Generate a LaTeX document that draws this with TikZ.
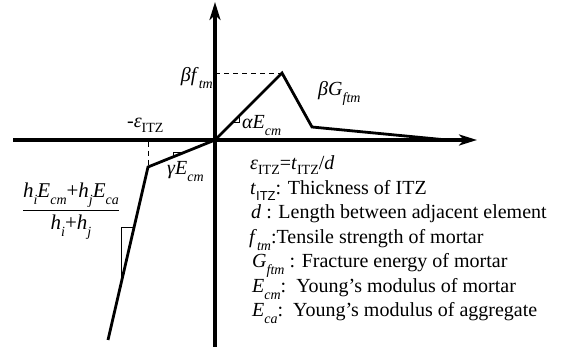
\documentclass[tikz,border=0pt]{standalone}
\usepackage{amsmath}
\usepackage{fontspec}
\setmainfont{Liberation Serif}
\setsansfont{Liberation Sans}
\usetikzlibrary{arrows.meta}
% italic letter, lowered italic subscript, lowered upright subscript
\newcommand{\iv}[1]{\textit{#1}}
\newcommand{\subit}[1]{\raisebox{-7pt}{\fontsize{14}{14}\selectfont\itshape #1}}
\newcommand{\subup}[1]{\raisebox{-5pt}{\fontsize{14}{14}\selectfont\upshape #1}}
\newcommand{\subsf}[1]{\raisebox{-6pt}{\fontsize{13}{13}\selectfont\sffamily #1}}
\begin{document}
\begin{tikzpicture}[x=1pt,y=-1pt,
  font=\fontsize{20}{24}\selectfont,
  axisline/.style={line width=3.2pt,-{Stealth[length=18pt,width=11pt,inset=5pt]}},
  curveline/.style={line width=2.8pt,line join=miter},
  thinline/.style={line width=0.9pt},
  dashline/.style={line width=0.9pt,dash pattern=on 5pt off 4pt},
  lbl/.style={inner sep=0pt,anchor=base west}]
\useasboundingbox (0,0) rectangle (562,352);
% key points
\coordinate (O) at (215,140);
\coordinate (xl) at (13,140);
\coordinate (xr) at (477,140);
\coordinate (yt) at (215,2);
\coordinate (yb) at (215,347);
\coordinate (P) at (282,73);
\coordinate (Q) at (312,127);
\coordinate (R) at (447,140);
\coordinate (K) at (148,167);
\coordinate (B) at (108,340);
\coordinate (Py) at (215,73);
\coordinate (Kt) at (148,142);
\coordinate (Kb) at (148,165);
% axes
\draw[axisline] (xl) -- (xr);
\draw[axisline] (yb) -- (yt);
% dashed guides
\draw[dashline] (Py) -- (P);
\draw[dashline] (Kt) -- (Kb);
% constitutive curve
\draw[curveline] (B) -- (K) -- (O) -- (P) -- (Q) -- (R);
% slope markers
\draw[thinline] (233.5,122.5) -- (239.5,122.5) -- (239.5,115.5);
\draw[thinline] (185,152) -- (173,152) -- (173,157);
\draw[thinline] (134,227) -- (121,227) -- (121,284);
% labels on the plot
\node[lbl,anchor=base east] (bft) at (213,82) {\iv{βf}\subit{tm}};
\node[lbl] (bG) at (318,96) {\iv{βG}\subit{ftm}};
\node[lbl] (aE) at (242,129) {\iv{αE}\subit{cm}};
\node[lbl] (meps) at (127,128) {-\iv{ε}\subup{ITZ}};
\node[lbl] (gE) at (167,175) {\iv{γE}\subit{cm}};
\node[inner sep=0pt,font=\fontsize{21}{25}\selectfont] (frac) at (71,211) {$\dfrac{\text{\iv{h}\subit{i}\iv{E}\subit{cm}+\iv{h}\subit{j}\iv{E}\subit{ca}}}{\text{\iv{h}\subit{i}+\iv{h}\subit{j}}}$};
% legend
\node[lbl] (l1) at (250,170) {\iv{ε}\subup{ITZ}=\iv{t}\subup{ITZ}/\iv{d}};
\node[lbl] (l2) at (250,194.5) {\iv{t}\subsf{ITZ}: Thickness of ITZ};
\node[lbl] (l3) at (251,219) {\iv{d} : Length between adjacent element};
\node[lbl] (l4) at (249,243.5) {\iv{f}\subit{tm}:Tensile strength of mortar};
\node[lbl] (l5) at (252,268) {\iv{G}\subit{ftm} : Fracture energy of mortar};
\node[lbl] (l6) at (252,292.5) {\iv{E}\subit{cm}:\ \ Young’s modulus of mortar};
\node[lbl] (l7) at (252,317) {\iv{E}\subit{ca}:\ \ Young’s modulus of aggregate};
\end{tikzpicture}
\end{document}
